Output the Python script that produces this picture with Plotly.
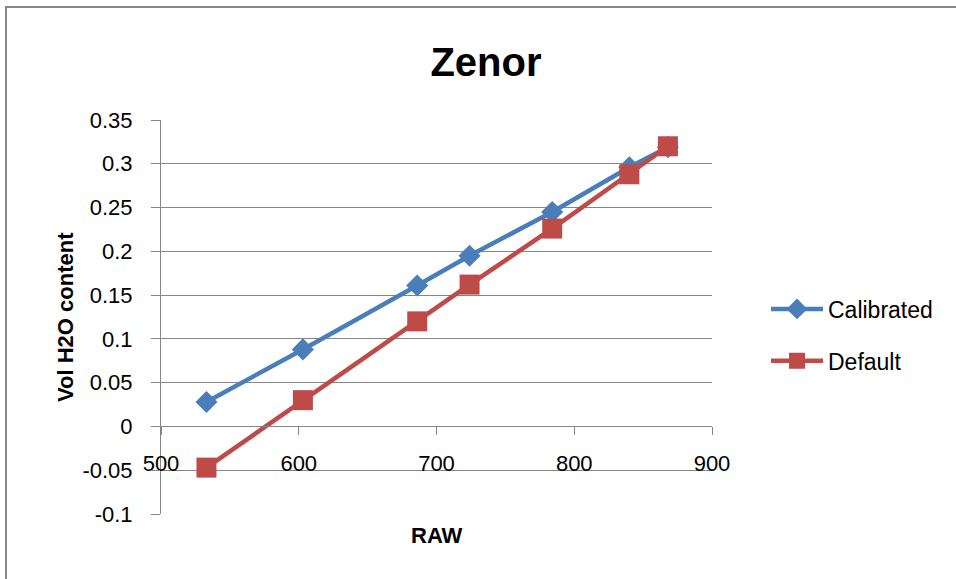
import plotly.graph_objects as go

# RAW sensor readings and volumetric water content for both calibrations
raw = [533, 603, 686, 724, 784, 840, 868]
calibrated = [0.028, 0.088, 0.161, 0.195, 0.245, 0.296, 0.319]
default = [-0.047, 0.030, 0.120, 0.162, 0.226, 0.288, 0.320]

y_tickvals = [-0.1, -0.05, 0, 0.05, 0.1, 0.15, 0.2, 0.25, 0.3, 0.35]
y_ticktext = ["-0.1", "-0.05", "0", "0.05", "0.1", "0.15", "0.2", "0.25", "0.3", "0.35"]
x_tickvals = [500, 600, 700, 800, 900]
x_ticktext = ["500", "600", "700", "800", "900"]

FONT = "Liberation Sans, Arial, sans-serif"
GRID = "#868686"
BLUE = "#4A7EBB"
RED = "#BE4B48"

W, H = 956, 579
L, R, T, B = 161, 244, 120, 65
PW, PH = W - L - R, H - T - B

y_min, y_max = -0.1, 0.35


def px_x(px):
    """Convert a horizontal pixel position to paper coordinates."""
    return (px - L) / PW


def px_y(py):
    """Convert a vertical pixel position (from the top) to paper coordinates."""
    return (H - B - py) / PH


fig = go.Figure()
fig.add_trace(go.Scatter(
    x=raw, y=calibrated, name="Calibrated", mode="lines+markers",
    legendgroup="cal",
    line=dict(color=BLUE, width=4.5),
    marker=dict(symbol="diamond", size=17, color=BLUE),
))
fig.add_trace(go.Scatter(
    x=raw, y=default, name="Default", mode="lines+markers",
    legendgroup="def",
    line=dict(color=RED, width=4.5),
    marker=dict(symbol="square", size=20, color=RED),
))

# outer chart frame (runs off the right and bottom edges)
fig.add_shape(
    type="rect", xref="paper", yref="paper",
    x0=px_x(6), x1=px_x(W + 20),
    y0=px_y(H + 20), y1=px_y(7),
    line=dict(color=GRID, width=2), fillcolor="rgba(0,0,0,0)", layer="below",
)

fig.update_layout(
    width=W, height=H,
    margin=dict(l=L, r=R, t=T, b=B, autoexpand=False),
    paper_bgcolor="white", plot_bgcolor="white",
    font=dict(family=FONT, color="#000000", size=20),
    title=dict(
        text="<b>Zenor</b>", x=486 / W, xref="container", xanchor="center",
        y=1 - 62 / H, yref="container", yanchor="middle",
        font=dict(size=40, family=FONT, color="#000000"),
    ),
    xaxis=dict(
        range=[500, 900], tickvals=x_tickvals, ticktext=x_ticktext,
        showgrid=False, zeroline=False,
        showline=True, linecolor=GRID, linewidth=1,
        ticks="outside", ticklen=8, tickcolor=GRID, tickwidth=1,
        ticklabelstandoff=9,
        anchor="free", position=(0 - y_min) / (y_max - y_min),
        tickfont=dict(size=22, family=FONT, color="#000000"),
        automargin=False,
    ),
    yaxis=dict(
        range=[y_min, y_max], tickvals=y_tickvals, ticktext=y_ticktext,
        showgrid=True, gridcolor=GRID, gridwidth=1, zeroline=False,
        showline=True, linecolor=GRID, linewidth=1,
        ticks="outside", ticklen=9, tickcolor=GRID, tickwidth=1,
        ticklabelstandoff=14,
        tickfont=dict(size=22, family=FONT, color="#000000"),
        automargin=False,
    ),
    legend=dict(
        x=px_x(766), xanchor="left",
        y=px_y(335), yanchor="middle",
        font=dict(size=23, family=FONT, color="#000000"),
        tracegroupgap=19, itemwidth=52,
        bgcolor="rgba(0,0,0,0)",
    ),
    annotations=[
        dict(text="<b>RAW</b>", xref="paper", yref="paper",
             x=0.5, y=px_y(535), xanchor="center", yanchor="middle",
             showarrow=False, font=dict(size=22, family=FONT, color="#000000")),
        dict(text="<b>Vol H2O content</b>", xref="paper", yref="paper",
             x=px_x(65), y=0.5, xanchor="center", yanchor="middle",
             textangle=-90, showarrow=False,
             font=dict(size=22, family=FONT, color="#000000")),
    ],
)

fig.write_html("out.html")
